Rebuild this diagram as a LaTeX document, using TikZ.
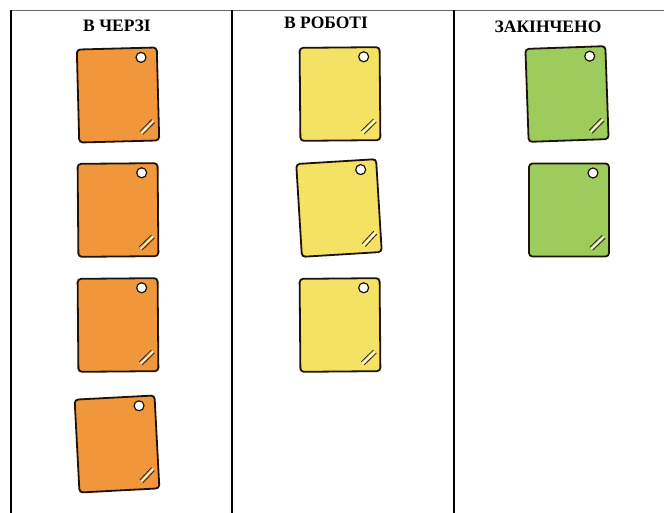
\documentclass[tikz,border=0pt]{standalone}
\usepackage{fontspec}
\setmainfont{Liberation Serif}
\begin{document}
\begin{tikzpicture}[x=1pt,y=-1pt,
  board/.style={line width=1.7pt,draw=black},
  topline/.style={line width=1pt,draw=black!60},
  header/.style={font=\bfseries\fontsize{17.5}{20}\selectfont,inner sep=0pt,anchor=base},
  notebox/.style={draw=black!85!brown,line width=1.8pt,rounded corners=3.5pt,
    minimum width=80pt,minimum height=93pt,inner sep=0pt},
  hole/.style={circle,draw=black!85!brown,fill=white,line width=1.2pt,
    minimum size=10pt,inner sep=0pt},
  gloss/.style={draw=black!75!brown,line width=0.8pt,line cap=round}]
\definecolor{qorange}{HTML}{F0973B}
\definecolor{qyellow}{HTML}{F3E264}
\definecolor{qgreen}{HTML}{9DCB5C}

\useasboundingbox (0,0) rectangle (664,513);

% board frame and column dividers
\coordinate (tl) at (10.5,10.5);
\coordinate (tr) at (664,10.5);
\draw[topline] (tl) -- (tr);
\foreach \x/\n in {10.7/a,231.7/b,454/c}{
  \coordinate (\n top) at (\x,10);
  \coordinate (\n bot) at (\x,513);
  \draw[board] (\n top) -- (\n bot);
}

% column headings
\node[header] (h1) at (117,32) {В ЧЕРЗІ};
\node[header] (h2) at (326,29) {В РОБОТІ};
\node[header] (h3) at (548,33) {ЗАКІНЧЕНО};

% one sticky note: name, centre x, centre y, tilt, colour
\newcommand\stickynote[5]{%
  \begin{scope}[shift={(#2,#3)},rotate=#4,transform shape]
    \node[notebox,fill=#5] (#1) at (0,0) {};
    \node[hole] (#1h) at (24,-37) {};
    \draw[white,line width=1.3pt,line cap=round] (22.5,38.5) -- (34.5,27);
    \draw[gloss] (21,37) -- (33,25.5);
    \draw[gloss] (24,40) -- (36,28.5);
  \end{scope}}

% queued
\stickynote{o1}{118}{95}{1.5}{qorange}
\stickynote{o2}{118}{210}{0.5}{qorange}
\stickynote{o3}{118}{325}{0.5}{qorange}
\stickynote{o4}{117}{444}{3}{qorange}
% in progress
\stickynote{y1}{340}{94}{0.5}{qyellow}
\stickynote{y2}{339}{208}{3.5}{qyellow}
\stickynote{y3}{340}{325}{0.5}{qyellow}
% done
\stickynote{g1}{567}{94}{2}{qgreen}
\stickynote{g2}{569}{210}{0}{qgreen}
\end{tikzpicture}
\end{document}
